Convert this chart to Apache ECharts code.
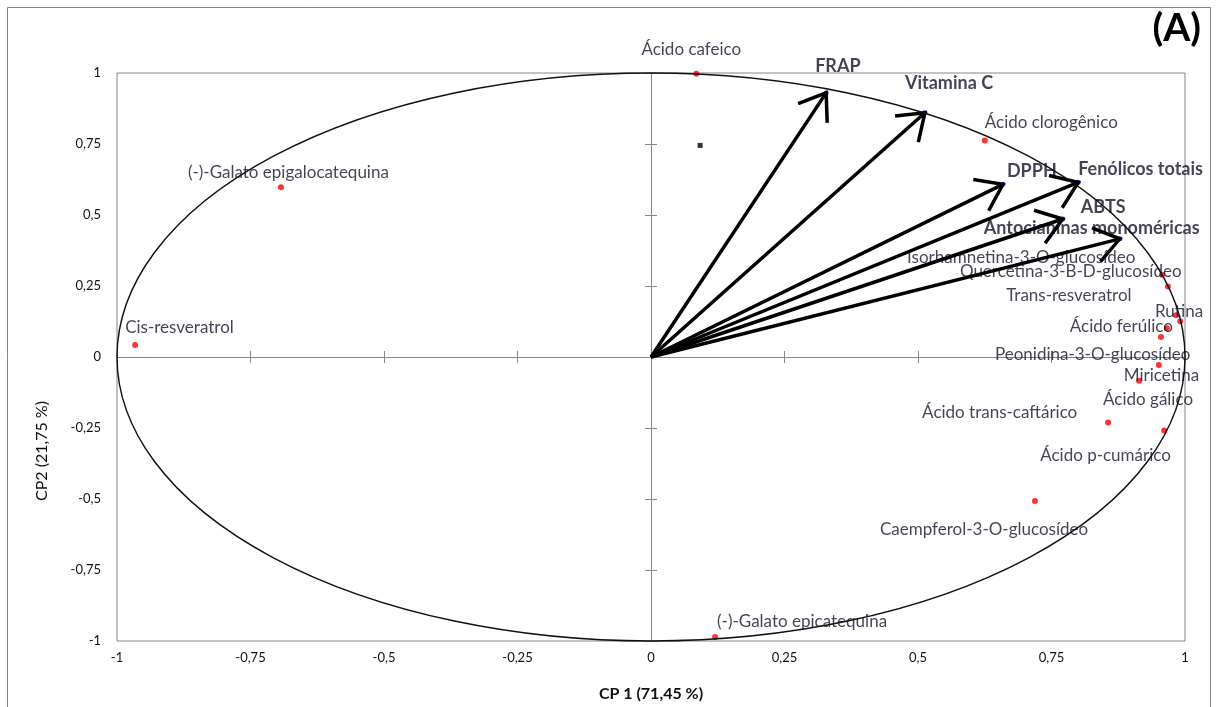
<!DOCTYPE html>
<html>
<head>
<meta charset="utf-8">
<script src="https://cdn.jsdelivr.net/npm/echarts@6/dist/echarts.min.js"></script>
<style>
html, body { margin: 0; padding: 0; background: #fff; }
#chart { width: 1216px; height: 707px; }
</style>
</head>
<body>
<div id="chart"></div>
<script>
// axis ticks (both axes)
var tickMin = -1;
var tickMax = 1;
var tickStep = 0.25;

// compounds: loadings on CP1 / CP2 (red points)
var compNames = ['Ácido cafeico', 'Ácido clorogênico', '(-)-Galato epigalocatequina', 'Cis-resveratrol',
    'Isorhamnetina-3-O-glucosídeo', 'Quercetina-3-B-D-glucosídeo', 'Rutina', 'Trans-resveratrol',
    'Ácido ferúlico', 'Peonidina-3-O-glucosídeo', 'Miricetina', 'Ácido gálico',
    'Ácido trans-caftárico', 'Ácido p-cumárico', 'Caempferol-3-O-glucosídeo', '(-)-Galato epicatequina'];
var compCP1 = [0.085, 0.625, -0.693, -0.966, 0.957, 0.968, 0.983, 0.991, 0.966, 0.955, 0.951, 0.914, 0.856, 0.961, 0.719, 0.120];
var compCP2 = [0.997, 0.762, 0.598, 0.042, 0.290, 0.248, 0.147, 0.126, 0.101, 0.070, -0.028, -0.084, -0.231, -0.259, -0.507, -0.986];

// variables: loadings on CP1 / CP2 (arrows)
var varNames = ['FRAP', 'Vitamina C', 'DPPH', 'Fenólicos totais', 'ABTS', 'Antocianinas monoméricas'];
var varCP1 = [0.328, 0.513, 0.659, 0.800, 0.771, 0.878];
var varCP2 = [0.930, 0.860, 0.608, 0.615, 0.486, 0.416];

// lone black marker
var markCP1 = [0.092];
var markCP2 = [0.745];

// correlation circle
var circleRadius = 1;

// label placement (pixels from the point), hand placed like in the original
var compShift = {
    'Ácido cafeico': [-55, -24],
    'Ácido clorogênico': [0, -18],
    '(-)-Galato epigalocatequina': [-93, -15],
    'Cis-resveratrol': [-10, -18],
    'Isorhamnetina-3-O-glucosídeo': [-255, -17],
    'Quercetina-3-B-D-glucosídeo': [-208, -15],
    'Rutina': [-21, -4],
    'Trans-resveratrol': [-174, -26],
    'Ácido ferúlico': [-97, -2],
    'Peonidina-3-O-glucosídeo': [-166, 17],
    'Miricetina': [-35, 11],
    'Ácido gálico': [-36, 19],
    'Ácido trans-caftárico': [-186, -10],
    'Ácido p-cumárico': [-124, 25],
    'Caempferol-3-O-glucosídeo': [-155, 29],
    '(-)-Galato epicatequina': [2, -16]
};
var varShift = {
    'FRAP': [-11, -27],
    'Vitamina C': [-20, -30],
    'DPPH': [4, -13],
    'Fenólicos totais': [0, -13],
    'ABTS': [18, -12],
    'Antocianinas monoméricas': [-136, -11]
};

var FONT = 'Lato, "Open Sans", sans-serif';
var AXIS_GREY = '#868686';
var TEXT = '#14142a';

function comma(v) {
    return String(v).replace('.', ',');
}

function axisCommon(extra) {
    return Object.assign({
        type: 'value',
        min: tickMin,
        max: tickMax,
        interval: tickStep,
        splitLine: { show: false }
    }, extra);
}

var labelAxis = {
    axisLine: { show: false, onZero: false },
    axisTick: { show: false },
    axisLabel: { formatter: comma, fontSize: 13, color: '#111', fontFamily: FONT }
};
var zeroOut = {
    axisLine: { onZero: true, lineStyle: { color: AXIS_GREY, width: 1 } },
    axisTick: { length: 6, lineStyle: { color: AXIS_GREY } },
    axisLabel: { show: false }
};
var zeroIn = {
    axisLine: { onZero: true, lineStyle: { color: AXIS_GREY, width: 1 } },
    axisTick: { inside: true, length: 6, lineStyle: { color: AXIS_GREY } },
    axisLabel: { show: false }
};

var compData = compNames.map(function (n, i) {
    return { name: n, value: [compCP1[i], compCP2[i]], label: { offset: compShift[n] } };
});
var varData = varNames.map(function (n, i) {
    return { name: n, value: [varCP1[i], varCP2[i]], label: { offset: varShift[n] } };
});
var arrowData = varNames.map(function (n, i) {
    return [varCP1[i], varCP2[i]];
});

var chart = echarts.init(document.getElementById('chart'));
chart.setOption({
    backgroundColor: '#fff',
    animation: false,
    grid: {
        left: 117, right: 31, top: 73, bottom: 62,
        show: true, borderColor: AXIS_GREY, borderWidth: 1
    },
    xAxis: [
        axisCommon(Object.assign({
            position: 'bottom',
            name: 'CP 1 (71,45 %)',
            nameLocation: 'middle',
            nameGap: 45,
            nameTextStyle: { fontWeight: 'bold', fontSize: 16, color: '#111', fontFamily: FONT }
        }, labelAxis, { axisLabel: Object.assign({}, labelAxis.axisLabel, { margin: 10 }) })),
        axisCommon(Object.assign({ position: 'bottom' }, zeroOut)),
        axisCommon(Object.assign({ position: 'bottom' }, zeroIn))
    ],
    yAxis: [
        axisCommon(Object.assign({ position: 'left' }, labelAxis, { axisLabel: Object.assign({}, labelAxis.axisLabel, { margin: 16 }) })),
        axisCommon(Object.assign({ position: 'left' }, zeroOut)),
        axisCommon(Object.assign({ position: 'left' }, zeroIn))
    ],
    graphic: [
        {
            type: 'rect',
            shape: { x: 7.5, y: 7.5, width: 1203, height: 720 },
            style: { fill: 'none', stroke: AXIS_GREY, lineWidth: 1 },
            silent: true
        },
        {
            type: 'text',
            right: 15, top: 9,
            style: { text: '(A)', font: 'bold 39px ' + FONT, fill: '#000' }
        },
        {
            type: 'text',
            x: 42, y: 451,
            rotation: Math.PI / 2,
            style: { text: 'CP2 (21,75 %)', font: '16px ' + FONT, fill: '#111', align: 'center', verticalAlign: 'middle' }
        }
    ],
    series: [
        {
            // correlation circle
            type: 'custom',
            z: 6,
            silent: true,
            clip: false,
            data: [[0, 0]],
            renderItem: function (params, api) {
                var c = api.coord([api.value(0), api.value(1)]);
                var rx = api.coord([circleRadius, 0])[0] - c[0];
                var ry = c[1] - api.coord([0, circleRadius])[1];
                var d = 'M ' + (c[0] - rx) + ' ' + c[1] +
                    ' A ' + rx + ' ' + ry + ' 0 1 0 ' + (c[0] + rx) + ' ' + c[1] +
                    ' A ' + rx + ' ' + ry + ' 0 1 0 ' + (c[0] - rx) + ' ' + c[1] + ' Z';
                return {
                    type: 'path',
                    shape: { pathData: d },
                    style: { fill: 'none', stroke: '#111', lineWidth: 1.4 }
                };
            }
        },
        {
            // compounds
            type: 'scatter',
            z: 4,
            symbolSize: 6,
            itemStyle: { color: '#ff0000' },
            data: compData,
            label: {
                show: true,
                position: 'inside',
                align: 'left',
                verticalAlign: 'middle',
                formatter: '{b}',
                fontSize: 17,
                color: TEXT,
                fontFamily: FONT
            }
        },
        {
            type: 'scatter',
            z: 4,
            symbol: 'rect',
            symbolSize: 5,
            itemStyle: { color: '#000' },
            data: markCP1.map(function (v, i) { return [v, markCP2[i]]; })
        },
        {
            // variables: tip points + names
            type: 'scatter',
            z: 3,
            symbolSize: 5,
            itemStyle: { color: '#0000ff' },
            data: varData,
            label: {
                show: true,
                position: 'inside',
                align: 'left',
                verticalAlign: 'middle',
                formatter: '{b}',
                fontSize: 18,
                fontWeight: 'bold',
                color: TEXT,
                fontFamily: FONT
            }
        },
        {
            // arrows
            type: 'custom',
            z: 5,
            silent: true,
            data: arrowData,
            renderItem: function (params, api) {
                var p0 = api.coord([0, 0]);
                var p1 = api.coord([api.value(0), api.value(1)]);
                var a = Math.atan2(p0[1] - p1[1], p0[0] - p1[0]);
                var L = 30, s = 0.62;
                var w1 = [p1[0] + L * Math.cos(a + s), p1[1] + L * Math.sin(a + s)];
                var w2 = [p1[0] + L * Math.cos(a - s), p1[1] + L * Math.sin(a - s)];
                var st = { stroke: '#000', lineWidth: 3.5, fill: 'none' };
                return {
                    type: 'group',
                    children: [
                        { type: 'line', shape: { x1: p0[0], y1: p0[1], x2: p1[0], y2: p1[1] }, style: st },
                        { type: 'polyline', shape: { points: [w1, p1, w2] }, style: st }
                    ]
                };
            }
        }
    ]
});
</script>
</body>
</html>
